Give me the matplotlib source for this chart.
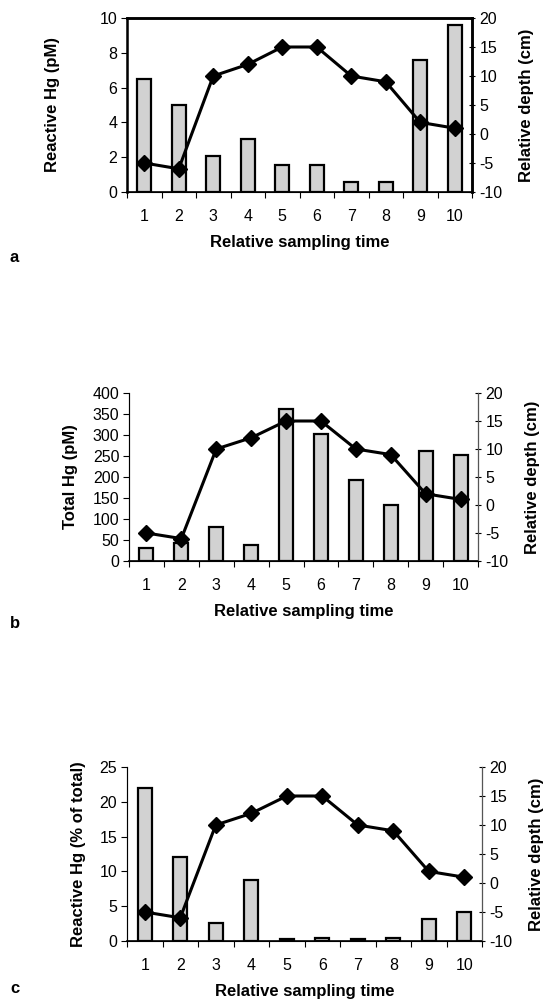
import matplotlib
matplotlib.use("Agg")
import matplotlib.pyplot as plt
import numpy as np

plt.rcParams['font.family'] = ['Liberation Sans', 'DejaVu Sans']
plt.rcParams['axes.unicode_minus'] = False

times = [1, 2, 3, 4, 5, 6, 7, 8, 9, 10]
depth = [-5, -6, 10, 12, 15, 15, 10, 9, 2, 1]
reactive_pM = [6.5, 5.0, 2.05, 3.05, 1.55, 1.55, 0.6, 0.6, 7.6, 9.6]
total_pM = [32, 42, 82, 38, 362, 302, 193, 133, 263, 253]
reactive_pct = [22, 12, 2.6, 8.7, 0.3, 0.5, 0.3, 0.4, 3.1, 4.2]

panels = [
    dict(vals=reactive_pM, ylabel='Reactive Hg (pM)', ylim=(0, 10), yticks=[0, 2, 4, 6, 8, 10],
         rect=(127, 18, 472, 192), letter='a', box=True, lx=53, rx=526, ly=262),
    dict(vals=total_pM, ylabel='Total Hg (pM)', ylim=(0, 400), yticks=list(range(0, 401, 50)),
         rect=(129, 393, 478, 561), letter='b', box=False, lx=70, rx=532, ly=628),
    dict(vals=reactive_pct, ylabel='Reactive Hg (% of total)', ylim=(0, 25), yticks=[0, 5, 10, 15, 20, 25],
         rect=(127, 767, 482, 941), letter='c', box=False, lx=78, rx=537, ly=993),
]

W, H = 544, 1005
fig = plt.figure(figsize=(W / 100, H / 100), dpi=100)

for p in panels:
    l, t, r, b = p['rect']
    ax = fig.add_axes([l / W, 1 - b / H, (r - l) / W, (b - t) / H])
    ax.bar(times, p['vals'], width=0.4, color='#d2d2d2', edgecolor='black', linewidth=1.6, zorder=2)
    ax.set_xlim(0.5, 10.5)
    ax.set_ylim(*p['ylim'])
    ax.set_yticks(p['yticks'])
    ax.set_xticks(times)
    ax.set_xticks(np.arange(0.5, 11, 1), minor=True)
    ax.tick_params(axis='x', which='major', length=0, labelsize=11.5, pad=12)
    ax.tick_params(axis='x', which='minor', length=4, direction='out', width=0.8)
    ax.tick_params(axis='y', labelsize=11.5, length=4, width=0.8, pad=3)
    ax.set_xlabel('Relative sampling time', fontsize=12, fontweight='bold', labelpad=8)
    ax.set_ylabel(p['ylabel'], fontsize=12, fontweight='bold')
    ax.yaxis.label.set_va('center')
    ax.yaxis.set_label_coords((p['lx'] - l) / (r - l), 0.5)
    ax.spines['bottom'].set_linewidth(1.2)
    if p['box']:
        for s in ['top', 'left', 'right']:
            ax.spines[s].set_linewidth(1.8)
    else:
        ax.spines['top'].set_visible(False)
        ax.spines['left'].set_linewidth(0.8)
        ax.spines['left'].set_color('#555555')
    ax2 = ax.twinx()
    ax2.plot(times, depth, color='black', linewidth=2.2, marker='D', markersize=8.5, zorder=5)
    ax2.set_ylim(-10, 20)
    ax2.set_yticks([-10, -5, 0, 5, 10, 15, 20])
    ax2.tick_params(axis='y', labelsize=11.5, length=5, width=0.8, direction='inout', pad=3)
    ax2.set_ylabel('Relative depth (cm)', fontsize=12, fontweight='bold')
    ax2.yaxis.label.set_va('center')
    ax2.yaxis.set_label_coords((p['rx'] - l) / (r - l), 0.5)
    if not p['box']:
        ax2.spines['top'].set_visible(False)
        ax2.spines['right'].set_linewidth(0.8)
        ax2.spines['right'].set_color('#555555')
    else:
        ax2.spines['right'].set_linewidth(1.8)
        ax2.spines['top'].set_linewidth(1.8)
    fig.text(10 / W, 1 - p['ly'] / H, p['letter'], fontsize=12, fontweight='bold', va='baseline')

fig.savefig('out.png', dpi=100)
